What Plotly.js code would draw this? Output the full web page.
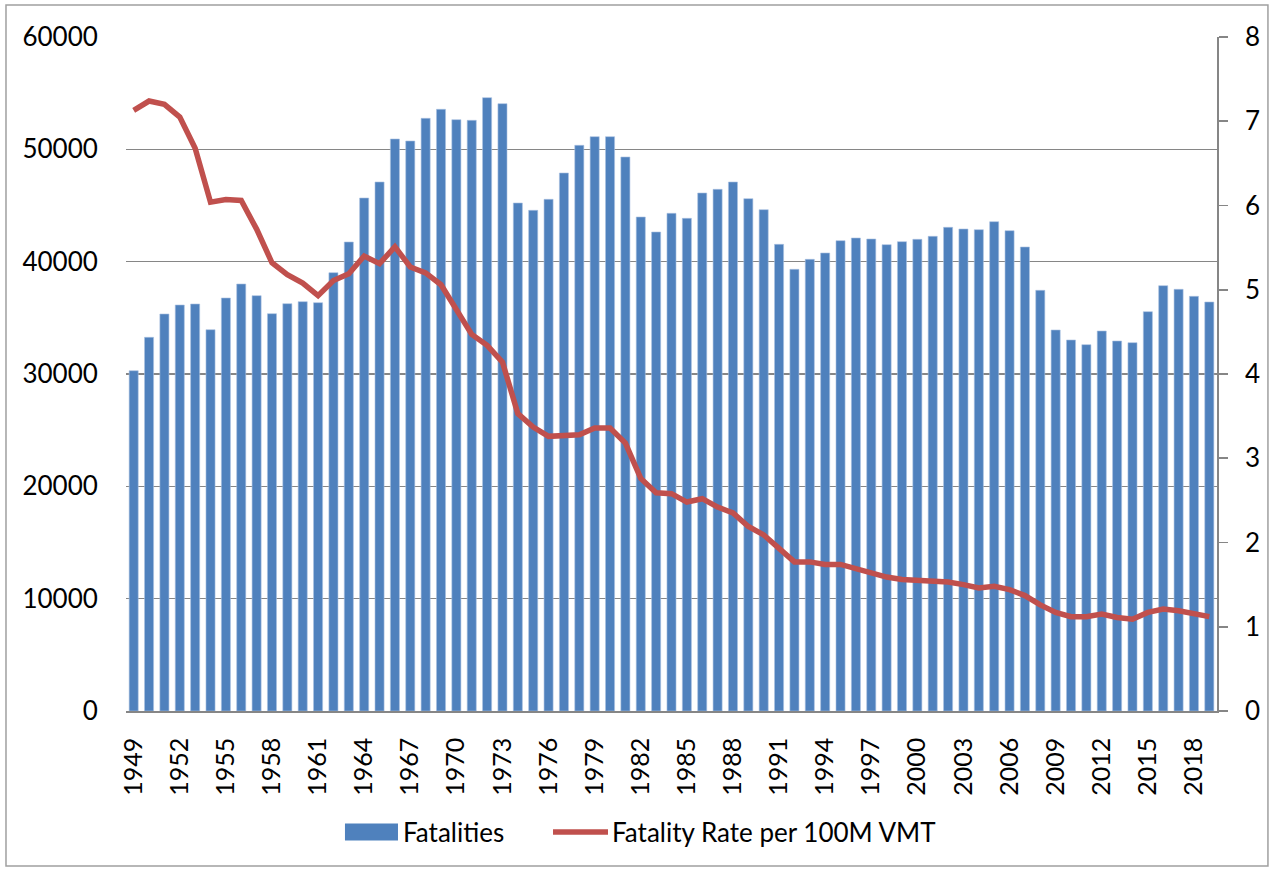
<!DOCTYPE html>
<html>
<head>
<meta charset="utf-8">
<script src="https://cdn.plot.ly/plotly-3.0.1.min.js"></script>
<style>
  html, body { margin: 0; padding: 0; background: #ffffff; }
  #chart { width: 1276px; height: 869px; }
</style>
</head>
<body>
<div id="chart"></div>
<script>
// ---- Data ----
const years = [];
for (let y = 1949; y <= 2019; y++) years.push(String(y));

const fatalities = [
  30294, 33267, 35341, 36142, 36231, 33944, 36766, 38012, 36973, 35370,
  36260, 36439, 36350, 39021, 41751, 45668, 47092, 50920, 50742, 52760,
  53563, 52641, 52582, 54600, 54065, 45223, 44570, 45549, 47893, 50356,
  51128, 51128, 49318, 43976, 42641, 44303, 43858, 46113, 46439, 47092,
  45608, 44629, 41543, 39318, 40208, 40772, 41869, 42107, 42018, 41513,
  41780, 41988, 42255, 43057, 42908, 42849, 43561, 42760, 41306, 37448,
  33917, 33027, 32611, 33828, 32938, 32789, 35549, 37863, 37537, 36914,
  36409
];

const fatalityRate = [
  7.13, 7.24, 7.20, 7.05, 6.68, 6.04, 6.07, 6.06, 5.72, 5.32,
  5.18, 5.08, 4.93, 5.11, 5.19, 5.40, 5.31, 5.51, 5.27, 5.20,
  5.06, 4.76, 4.47, 4.34, 4.14, 3.53, 3.37, 3.26, 3.27, 3.28,
  3.36, 3.36, 3.18, 2.76, 2.59, 2.58, 2.48, 2.52, 2.42, 2.35,
  2.19, 2.09, 1.93, 1.77, 1.77, 1.74, 1.74, 1.69, 1.65, 1.59,
  1.56, 1.55, 1.53, 1.53, 1.50, 1.46, 1.48, 1.44, 1.37, 1.26,
  1.17, 1.12, 1.12, 1.15, 1.11, 1.09, 1.17, 1.21, 1.19, 1.15,
  1.12
];

const xTickLabels = [];
for (let y = 1949; y <= 2019; y += 3) xTickLabels.push(String(y));

const leftTicks = [0, 10000, 20000, 30000, 40000, 50000, 60000];
const rightTicks = [0, 1, 2, 3, 4, 5, 6, 7, 8];

const seriesNames = ["Fatalities", "Fatality Rate per 100M VMT"];

// ---- Styling ----
const FONT = "Lato, 'Open Sans', 'Noto Sans', sans-serif";
const BLUE = "#4F81BD";
const RED = "#C0504D";
const GRID = "#868686";

const traces = [
  {
    type: "bar",
    name: seriesNames[0],
    x: years,
    y: fatalities,
    marker: { color: BLUE, line: { color: "#a9c1e0", width: 0.6 } },
    yaxis: "y",
    hoverinfo: "x+y"
  },
  {
    type: "scatter",
    mode: "lines",
    name: seriesNames[1],
    x: years,
    y: fatalityRate,
    line: { color: RED, width: 5.5 },
    yaxis: "y2",
    hoverinfo: "x+y"
  }
];

const layout = {
  width: 1276,
  height: 869,
  margin: { l: 126, r: 59, t: 37, b: 158 },
  paper_bgcolor: "#ffffff",
  plot_bgcolor: "#ffffff",
  font: { family: FONT, color: "#000000", size: 25 },
  showlegend: false,
  bargap: 0.41,
  xaxis: {
    type: "category",
    categoryorder: "array",
    categoryarray: years,
    tickmode: "array",
    tickvals: xTickLabels,
    ticktext: xTickLabels,
    tickangle: -90,
    ticks: "outside",
    ticklen: 15,
    tickcolor: "rgba(0,0,0,0)",
    showgrid: false,
    showline: true,
    linecolor: GRID,
    linewidth: 1.8,
    zeroline: false,
    tickfont: { family: FONT, size: 25, color: "#000" },
    fixedrange: true
  },
  yaxis: {
    range: [0, 60000],
    tickmode: "array",
    tickvals: leftTicks,
    ticktext: leftTicks.map(String),
    showgrid: true,
    gridcolor: GRID,
    gridwidth: 1.6,
    showline: false,
    zeroline: false,
    ticks: "outside",
    ticklen: 22,
    tickcolor: "rgba(0,0,0,0)",
    tickfont: { family: FONT, size: 26, color: "#000" },
    fixedrange: true
  },
  yaxis2: {
    overlaying: "y",
    side: "right",
    range: [0, 8],
    tickmode: "array",
    tickvals: rightTicks,
    ticktext: rightTicks.map(String),
    showgrid: false,
    showline: true,
    linecolor: GRID,
    linewidth: 1.8,
    zeroline: false,
    ticks: "outside",
    ticklen: 9,
    tickwidth: 1.6,
    tickcolor: GRID,
    ticklabelstandoff: 12,
    tickfont: { family: FONT, size: 26, color: "#000" },
    fixedrange: true
  },
  shapes: [
    // outer chart border
    { type: "rect", xref: "paper", yref: "paper",
      x0: -0.110, x1: 1.0467, y0: -0.230, y1: 1.0475,
      line: { color: "#a0a0a0", width: 1.5 }, fillcolor: "rgba(0,0,0,0)", layer: "below" },
    // legend symbols
    { type: "rect", xref: "paper", yref: "paper",
      x0: 0.2007, x1: 0.2493, y0: -0.1921, y1: -0.1669,
      line: { width: 0 }, fillcolor: BLUE },
    { type: "line", xref: "paper", yref: "paper",
      x0: 0.3914, x1: 0.4418, y0: -0.1795, y1: -0.1795,
      line: { color: RED, width: 5.5 } }
  ],
  annotations: [
    { xref: "paper", yref: "paper", x: 0.2521, y: -0.1795,
      xanchor: "left", yanchor: "middle", showarrow: false,
      text: seriesNames[0], font: { family: FONT, size: 26, color: "#000" } },
    { xref: "paper", yref: "paper", x: 0.4436, y: -0.1795,
      xanchor: "left", yanchor: "middle", showarrow: false,
      text: seriesNames[1], font: { family: FONT, size: 26, color: "#000" } }
  ]
};

Plotly.newPlot("chart", traces, layout, { displayModeBar: false, staticPlot: true });
</script>
</body>
</html>
